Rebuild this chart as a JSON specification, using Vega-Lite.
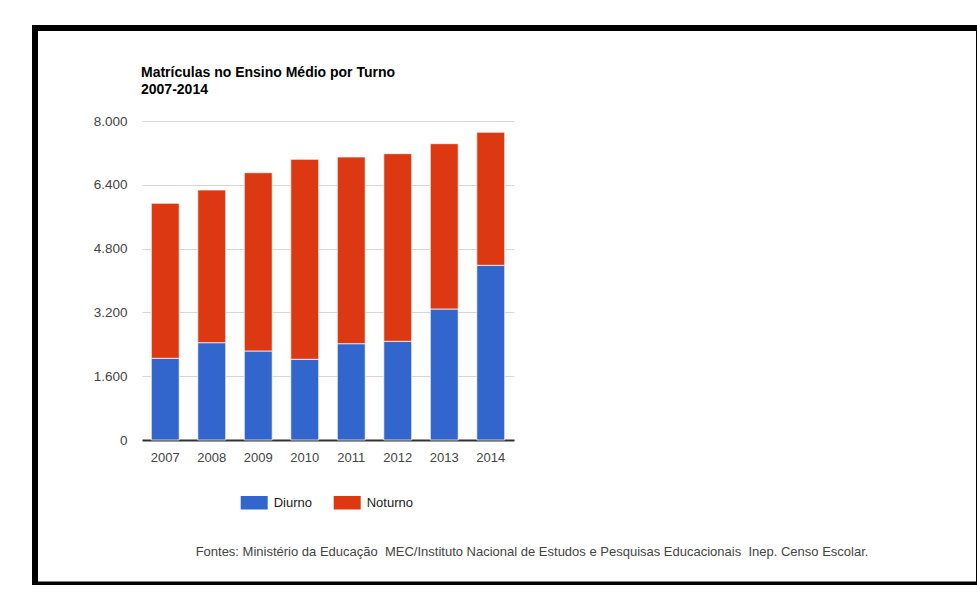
{
  "$schema": "https://vega.github.io/schema/vega-lite/v6.json",
  "width": 944,
  "height": 556.5,
  "autosize": {"type": "none"},
  "padding": {"left": 35, "top": 28, "right": 0, "bottom": 0},
  "background": "white",
  "config": {
    "view": {"stroke": "black", "strokeWidth": 6},
    "font": "Liberation Sans"
  },
  "title": {
    "text": ["Matrículas no Ensino Médio por Turno", "2007-2014"],
    "anchor": "start",
    "frame": "group",
    "orient": "top",
    "fontSize": 14,
    "fontWeight": "bold",
    "color": "#000000",
    "lineHeight": 17.5,
    "baseline": "alphabetic",
    "offset": 0,
    "dx": 106,
    "dy": 80
  },
  "data": {
    "values": [
      {"ano": "2007", "turno": "Diurno", "matriculas": 2049},
      {"ano": "2007", "turno": "Noturno", "matriculas": 3887},
      {"ano": "2008", "turno": "Diurno", "matriculas": 2440},
      {"ano": "2008", "turno": "Noturno", "matriculas": 3830},
      {"ano": "2009", "turno": "Diurno", "matriculas": 2232},
      {"ano": "2009", "turno": "Noturno", "matriculas": 4471},
      {"ano": "2010", "turno": "Diurno", "matriculas": 2024},
      {"ano": "2010", "turno": "Noturno", "matriculas": 5015},
      {"ano": "2011", "turno": "Diurno", "matriculas": 2415},
      {"ano": "2011", "turno": "Noturno", "matriculas": 4682},
      {"ano": "2012", "turno": "Diurno", "matriculas": 2475},
      {"ano": "2012", "turno": "Noturno", "matriculas": 4705},
      {"ano": "2013", "turno": "Diurno", "matriculas": 3285},
      {"ano": "2013", "turno": "Noturno", "matriculas": 4146},
      {"ano": "2014", "turno": "Diurno", "matriculas": 4381},
      {"ano": "2014", "turno": "Noturno", "matriculas": 3336}
    ]
  },
  "mark": {"type": "bar", "stroke": "white", "strokeWidth": 0.7},
  "encoding": {
    "x": {
      "field": "ano",
      "type": "ordinal",
      "scale": {"range": [107, 479], "paddingInner": 0.4, "paddingOuter": 0.2},
      "axis": {
        "orient": "bottom",
        "offset": -144.5,
        "labelAngle": 0,
        "labelFontSize": 13,
        "labelColor": "#444444",
        "labelPadding": 11,
        "ticks": false,
        "tickSize": 0,
        "domainColor": "#333333",
        "domainWidth": 2,
        "grid": false,
        "title": "Fontes: Ministério da Educação\u00a0 MEC/Instituto Nacional de Estudos e Pesquisas Educacionais\u00a0 Inep. Censo Escolar.",
        "titleFontSize": 13,
        "titleFontWeight": "normal",
        "titleColor": "#444444",
        "titleX": 496.5,
        "titleY": 115,
        "titleAlign": "center",
        "titleBaseline": "alphabetic",
        "titleAnchor": null
      }
    },
    "y": {
      "field": "matriculas",
      "type": "quantitative",
      "aggregate": "sum",
      "stack": "zero",
      "scale": {"domain": [0, 8000], "nice": false, "range": [412, 93]},
      "axis": {
        "orient": "left",
        "offset": -107,
        "values": [0, 1600, 3200, 4800, 6400, 8000],
        "labelExpr": "replace(format(datum.value, ','), ',', '.')",
        "labelFontSize": 13.5,
        "labelColor": "#444444",
        "labelPadding": 15,
        "ticks": false,
        "tickSize": 0,
        "domain": false,
        "grid": true,
        "gridColor": "#d6d6d6",
        "gridWidth": 1,
        "title": null
      }
    },
    "color": {
      "field": "turno",
      "type": "nominal",
      "scale": {"domain": ["Diurno", "Noturno"], "range": ["#3366cc", "#dc3912"]},
      "legend": {
        "title": null,
        "orient": "none",
        "direction": "horizontal",
        "legendX": 205.7,
        "legendY": 461,
        "padding": 0,
        "symbolType": "M-1,-0.5H1V0.5H-1Z",
        "symbolSize": 729,
        "symbolStrokeWidth": 0,
        "symbolOpacity": 1,
        "labelFontSize": 13,
        "labelColor": "#222222",
        "labelOffset": 6,
        "columnPadding": 21
      }
    },
    "order": {"field": "turno", "type": "nominal", "sort": "ascending"}
  }
}
